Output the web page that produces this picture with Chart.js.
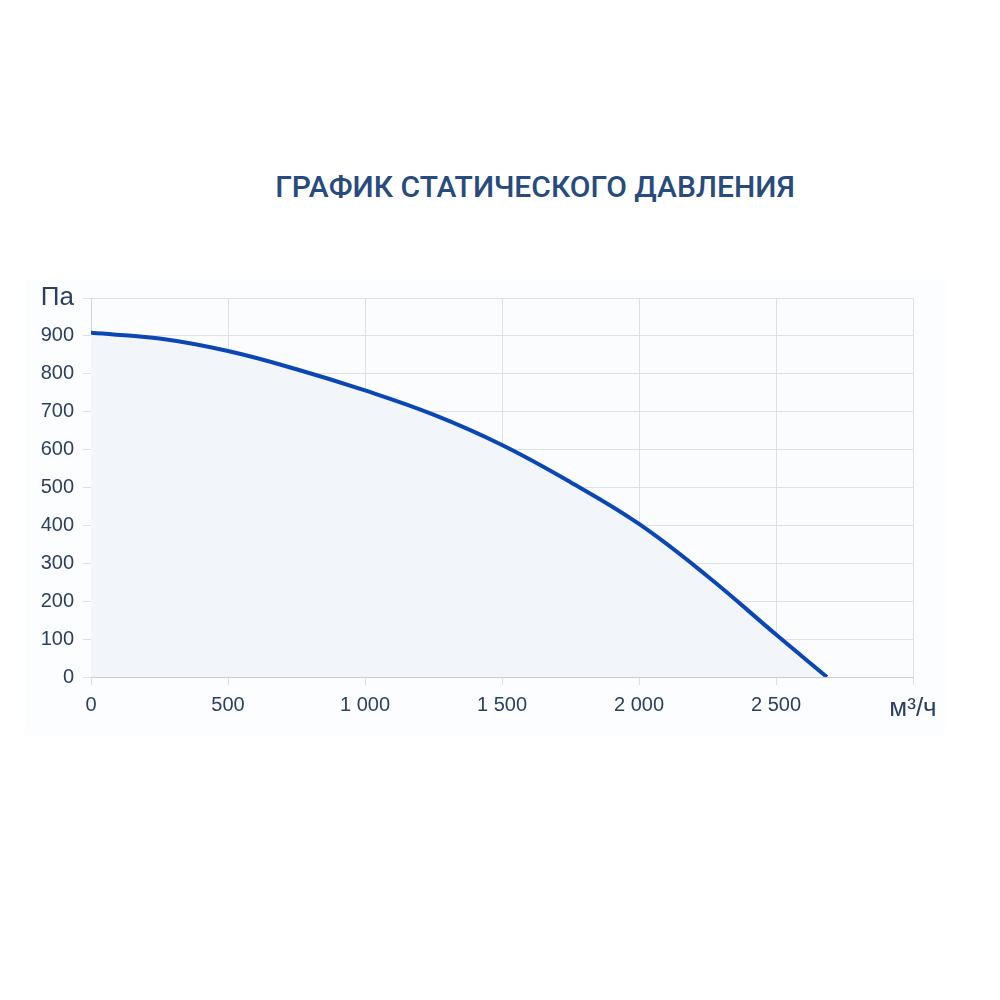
<!DOCTYPE html>
<html>
<head>
<meta charset="utf-8">
<script src="https://cdn.jsdelivr.net/npm/chart.js@4"></script>
<style>
  html, body { margin: 0; padding: 0; background: #ffffff; }
  #wrap { position: relative; width: 1000px; height: 1000px; overflow: hidden; }
  #panel { position: absolute; left: 25px; top: 280px; width: 920px; height: 455px; background: #fcfdfe; }
  #title {
    position: absolute; left: 0; top: 169px; width: 1070px; text-align: center;
    font-family: Roboto, sans-serif; font-weight: 500; font-size: 30px; color: #274b7d;
  }
  #chart { position: absolute; left: 0; top: 0; }
</style>
</head>
<body>
<div id="wrap">
  <div id="panel"></div>
  <div id="title">ГРАФИК СТАТИЧЕСКОГО ДАВЛЕНИЯ</div>
  <canvas id="chart" width="1000" height="1000"></canvas>
</div>
<script>
// расход, м³/ч
const flowValues = [0, 250, 500, 750, 1000, 1250, 1500, 1750, 2000, 2250, 2500, 2686];
// статическое давление, Па
const pressureValues = [908, 893, 860, 812, 756, 692, 612, 514, 404, 266, 112, 0];

const xUnit = 'м³/ч';
const yUnit = 'Па';
const xMax = 3000;
const yMax = 1000;

const tickColor = '#2b3f5f';
const gridColor = '#dde0e7';
const tickFamily = 'Liberation Sans, Arial, sans-serif';

function fmt(v)
{
    return String(v).replace(/\B(?=(\d{3})+(?!\d))/g, ' ');
}

const points = flowValues.map((x, i) => ({ x: x, y: pressureValues[i] }));

// фон области графика
const areaBg = {
    id: 'areaBg',
    beforeDraw(chart) {
        const a = chart.chartArea;
        const ctx = chart.ctx;
        ctx.save();
        ctx.fillStyle = '#fbfcfe';
        ctx.fillRect(a.left, a.top, a.right - a.left, a.bottom - a.top);
        ctx.restore();
    }
};

new Chart(document.getElementById('chart'), {
    type: 'line',
    data: {
        datasets: [{
            data: points,
            borderColor: '#0a47b5',
            borderWidth: 4,
            backgroundColor: '#f2f5fa',
            fill: 'origin',
            pointRadius: 0,
            tension: 0.4
        }]
    },
    options: {
        responsive: false,
        animation: false,
        layout: { padding: { left: 0, top: 298, right: 87, bottom: 263 } },
        plugins: { legend: { display: false }, tooltip: { enabled: false } },
        scales: {
            x: {
                type: 'linear',
                min: 0,
                max: xMax,
                afterFit: (scale) => { scale.height = 60; },
                ticks: {
                    stepSize: 500,
                    padding: 8,
                    color: tickColor,
                    font: (ctx) => ctx.tick && ctx.tick.value === xMax
                        ? { family: tickFamily, size: 26 }
                        : { family: tickFamily, size: 20 },
                    callback: (v) => v === xMax ? xUnit : fmt(v)
                },
                grid: { color: gridColor, lineWidth: 1, tickLength: 8 },
                border: { color: '#c9cdd5' }
            },
            y: {
                min: 0,
                max: yMax,
                afterFit: (scale) => { scale.width = 91; },
                ticks: {
                    stepSize: 100,
                    padding: 9,
                    color: tickColor,
                    font: (ctx) => ctx.tick && ctx.tick.value === yMax
                        ? { family: tickFamily, size: 26 }
                        : { family: tickFamily, size: 20 },
                    callback: (v) => v === yMax ? yUnit : fmt(v)
                },
                grid: { color: gridColor, lineWidth: 1, tickLength: 8 },
                border: { color: '#cfd3da' }
            }
        }
    },
    plugins: [areaBg]
});
</script>
</body>
</html>
